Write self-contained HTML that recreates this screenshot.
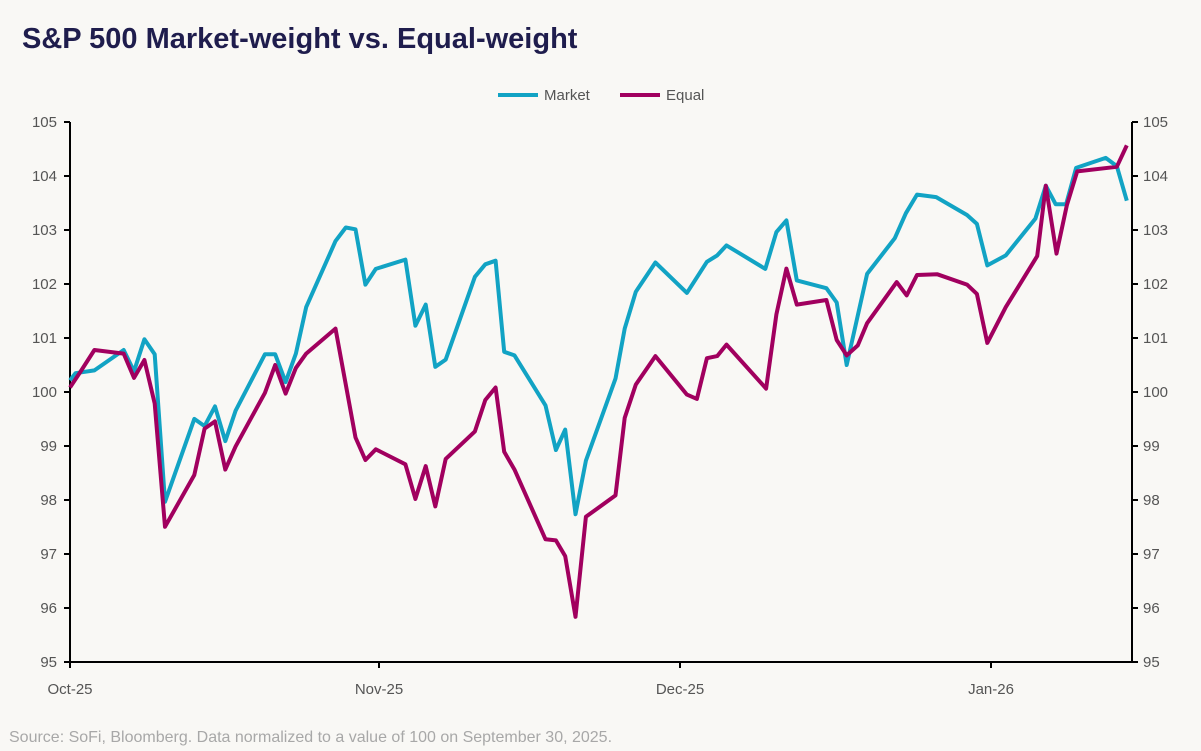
<!DOCTYPE html>
<html><head><meta charset="utf-8"><style>
body{margin:0;background:#f9f8f5;}
svg{display:block;font-family:"Liberation Sans",sans-serif;}
</style></head><body>
<svg id="s" width="1201" height="751" xmlns="http://www.w3.org/2000/svg">
<rect width="1201" height="751" fill="#f9f8f5"/>
<text x="22" y="48" font-size="29" font-weight="bold" fill="#1f1d4d">S&amp;P 500 Market-weight vs. Equal-weight</text>
<line x1="498" y1="95" x2="538" y2="95" stroke="#12a3c4" stroke-width="4"/>
<text x="544" y="100" font-size="15" fill="#555">Market</text>
<line x1="620" y1="95" x2="660" y2="95" stroke="#a1005f" stroke-width="4"/>
<text x="666" y="100" font-size="15" fill="#555">Equal</text>
<g id="ax" stroke="#000" stroke-width="2"></g>
<g id="lb" font-size="15" fill="#555"></g>
<polyline id="m" fill="none" stroke="#12a3c4" stroke-width="4" stroke-linejoin="round"/>
<polyline id="e" fill="none" stroke="#a1005f" stroke-width="4" stroke-linejoin="round"/>
<text x="9" y="742" font-size="16" fill="#a8a8a8">Source: SoFi, Bloomberg. Data normalized to a value of 100 on September 30, 2025.</text>
</svg>
<script>
var NS="http://www.w3.org/2000/svg";
function el(p,t,a,txt){var e=document.createElementNS(NS,t);for(var k in a)e.setAttribute(k,a[k]);if(txt)e.textContent=txt;document.getElementById(p).appendChild(e);}
el("ax","line",{x1:70,y1:122,x2:70,y2:662});
el("ax","line",{x1:1132,y1:122,x2:1132,y2:662});
el("ax","line",{x1:70,y1:662,x2:1132,y2:662});
for(var i=0;i<=10;i++){var y=122+i*54;
el("ax","line",{x1:64,y1:y,x2:70,y2:y});el("ax","line",{x1:1132,y1:y,x2:1138,y2:y});
el("lb","text",{x:57,y:y+5,"text-anchor":"end"},String(105-i));
el("lb","text",{x:1143,y:y+5},String(105-i));}
[[70,"Oct-25"],[379,"Nov-25"],[680,"Dec-25"],[991,"Jan-26"]].forEach(function(d){
el("ax","line",{x1:d[0],y1:662,x2:d[0],y2:668});
el("lb","text",{x:d[0],y:694,"text-anchor":"middle"},d[1]);});
function z1(a){return a.map(function(p){return (60+p[0]/2.904).toFixed(1)+","+(100+p[1]/2.8).toFixed(1)}).join(" ");}
function z2(a){return a.map(function(p){return (560+p[0]/2.703).toFixed(1)+","+(100+p[1]/2.8).toFixed(1)}).join(" ");}
var m1=[[29,785],[45,765],[100,757],[185,700],[215,760],[245,670],[275,712],[305,1125],[390,893],[420,913],[450,858],[480,955],[510,870],[595,712],[625,712],[655,790],[685,710],[715,580],[800,395],[830,357],[858,362],[887,517],[917,473],[1003,447],[1032,632],[1062,573],[1090,747],[1120,727],[1205,495],[1235,460],[1265,450],[1290,705],[1320,715],[1410,855],[1440,980],[1467,923],[1497,1160]];
var m2=[[70,1010],[150,780],[175,640],[205,537],[258,455],[343,540],[397,453],[425,435],[450,407],[555,473],[585,370],[612,337],[640,505],[720,527],[748,567],[775,742],[830,487],[905,387],[935,317],[965,265],[1017,272],[1100,322],[1127,347],[1155,463],[1205,435],[1285,332],[1313,240],[1340,292],[1368,292],[1395,190],[1475,162],[1505,185],[1532,282]];
var e1=[[29,805],[60,760],[100,700],[185,710],[215,778],[245,728],[275,850],[305,1195],[390,1050],[420,920],[450,900],[480,1035],[510,970],[595,820],[625,742],[655,822],[685,750],[715,710],[800,640],[858,945],[887,1008],[917,978],[1003,1020],[1032,1117],[1062,1025],[1090,1138],[1120,1005],[1205,928],[1235,840],[1265,805],[1290,985],[1320,1035],[1410,1230],[1440,1233],[1467,1277],[1497,1447]];
var e2=[[70,1167],[150,1107],[175,890],[205,797],[258,717],[343,825],[370,837],[397,723],[425,717],[450,685],[557,808],[585,600],[612,472],[640,573],[720,560],[748,672],[775,715],[805,687],[830,625],[910,510],[937,547],[965,490],[1020,488],[1100,517],[1127,543],[1155,680],[1205,580],[1290,437],[1313,240],[1342,430],[1370,295],[1398,200],[1505,187],[1532,127]];
document.getElementById("m").setAttribute("points",z1(m1)+" "+z2(m2));
document.getElementById("e").setAttribute("points",z1(e1)+" "+z2(e2));
</script>
</body></html>
